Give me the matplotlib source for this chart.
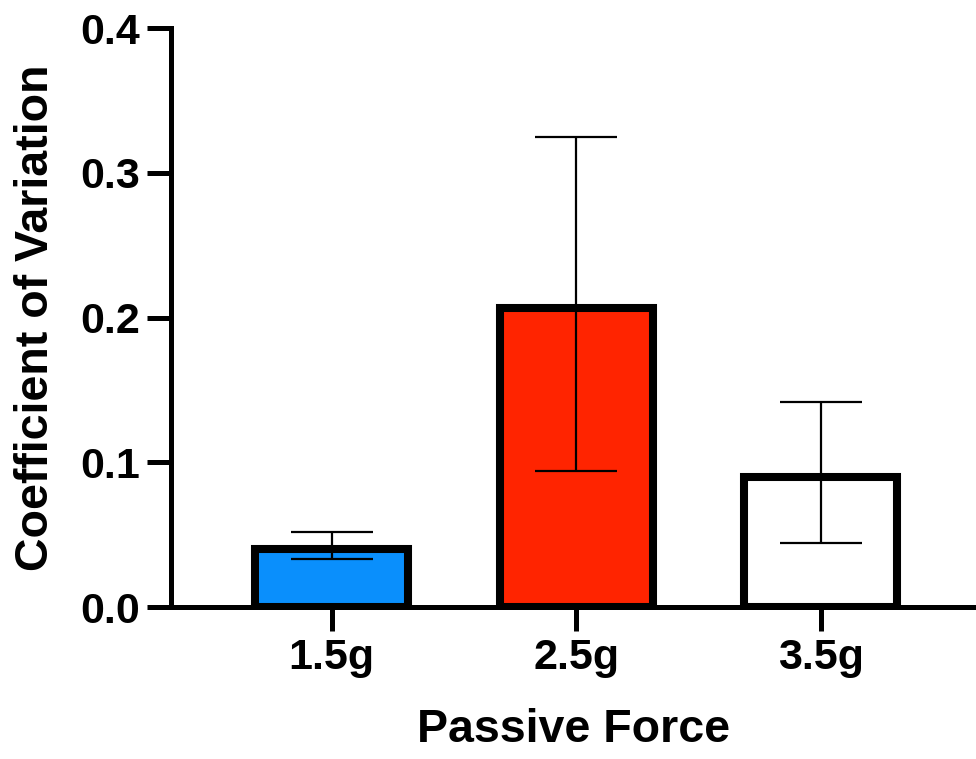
import matplotlib
matplotlib.use('Agg')
import matplotlib.pyplot as plt

plt.rcParams['font.family'] = ['Liberation Sans', 'DejaVu Sans']
plt.rcParams['font.weight'] = 'bold'

groups = ['1.5g', '2.5g', '3.5g']
means = [0.0428, 0.2095, 0.0929]
sds = [0.0094, 0.1155, 0.0485]
colors = ['#0A8FFC', '#FF2400', '#FFFFFF']

fig = plt.figure(figsize=(9.76, 7.59), dpi=100)
ax = fig.add_axes([0.175, 0.2, 0.825, 0.763])

x = list(range(len(groups)))
edge_lw = 5.8  # points (~8 px)
# keep the bar stroke inside the bar outline, like Prism does
inset_y = (edge_lw / 72 * 100 / 2) / (0.763 * 759 / 0.4)
bar_w = 0.626

ax.bar(x, [m - inset_y for m in means], bottom=0, width=bar_w,
       color=colors, edgecolor='black', linewidth=edge_lw, zorder=2)
ax.errorbar(x, means, yerr=sds, fmt='none', ecolor='black', elinewidth=1.6,
            capsize=29.5, capthick=1.6, zorder=3)

ax.set_xlim(-0.658, 2.634)
ax.set_ylim(0, 0.4)
ax.set_yticks([0.0, 0.1, 0.2, 0.3, 0.4])
ax.set_yticklabels(['0.0', '0.1', '0.2', '0.3', '0.4'])
ax.set_xticks(x)
ax.set_xticklabels(groups)

for s in ['top', 'right']:
    ax.spines[s].set_visible(False)
for s in ['left', 'bottom']:
    ax.spines[s].set_linewidth(3.6)
    ax.spines[s].set_zorder(4)
ax.tick_params(axis='both', length=17, width=3.6, labelsize=31, pad=5)

ax.set_ylabel('Coefficient of Variation', fontsize=33.5, fontweight='bold', labelpad=16)
ax.set_xlabel('Passive Force', fontsize=33.5, fontweight='bold', labelpad=22)

fig.savefig('out.png', dpi=100)
